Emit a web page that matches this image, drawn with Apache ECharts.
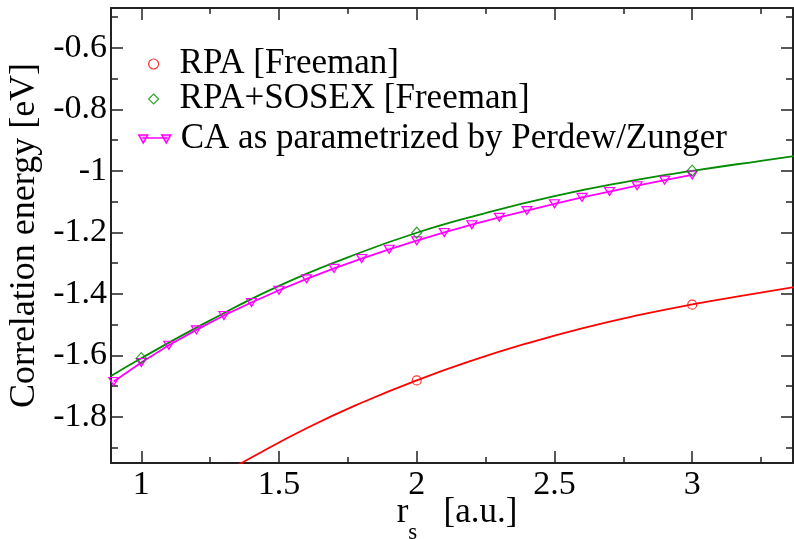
<!DOCTYPE html>
<html><head><meta charset="utf-8">
<script src="https://cdn.jsdelivr.net/npm/echarts@6/dist/echarts.min.js"></script>
<style>html,body{margin:0;padding:0;background:#fff}#c{width:794px;height:539px}</style>
</head><body><div id="c"></div>
<script>
// Tick labels
const xMajor = [1, 1.5, 2, 2.5, 3];
const xMinor = [1.25, 1.75, 2.25, 2.75, 3.25];
const yMajor = [-1.8, -1.6, -1.4, -1.2, -1, -0.8, -0.6];
const yMinor = [-1.9, -1.7, -1.5, -1.3, -1.1, -0.9, -0.7, -0.5];

// RPA [Freeman] data points and fit curve
const rpaX = [2, 3];
const rpaY = [-1.6815, -1.435];
const rpaFitX = [1.3, 1.4, 1.6, 1.8, 2.0, 2.2, 2.4, 2.6, 2.8, 3.0, 3.2, 3.37];
const rpaFitY = [-1.984, -1.932, -1.837, -1.754, -1.681, -1.617, -1.561, -1.512, -1.470, -1.434, -1.403, -1.378];

// RPA+SOSEX [Freeman] data points and fit curve
const sosexX = [1, 2, 3];
const sosexY = [-1.609, -1.201, -0.999];
const sosexFitX = [0.89, 1.0, 1.25, 1.5, 1.75, 2.0, 2.25, 2.5, 2.75, 3.0, 3.25, 3.37];
const sosexFitY = [-1.667, -1.609, -1.486, -1.374, -1.281, -1.201, -1.137, -1.082, -1.037, -1.000, -0.967, -0.952];

// CA (Perdew/Zunger)
const caX = [0.9, 1.0, 1.1, 1.2, 1.3, 1.4, 1.5, 1.6, 1.7, 1.8, 1.9, 2.0, 2.1, 2.2, 2.3, 2.4, 2.5, 2.6, 2.7, 2.8, 2.9, 3.0];
const caY = [-1.685, -1.623, -1.567, -1.517, -1.470, -1.428, -1.388, -1.351, -1.317, -1.285, -1.255, -1.227, -1.200, -1.175, -1.151, -1.129, -1.107, -1.086, -1.067, -1.048, -1.030, -1.013];

const names = ['RPA [Freeman]', 'RPA+SOSEX [Freeman]', 'CA as parametrized by Perdew/Zunger'];

const FONT = 'Liberation Serif';
const XMIN = 0.89, XMAX = 3.366, YMIN = -1.95, YMAX = -0.47;
const axisCol = '#222';
const zip = (a, b) => a.map((v, i) => [v, b[i]]);

function xAx(pos, vals, len, label, line) {
  return {
    type: 'value', min: XMIN, max: XMAX, position: pos,
    axisLine: {show: line, onZero: false, lineStyle: {color: axisCol, width: 2}},
    axisTick: {show: true, inside: true, length: len, customValues: vals, lineStyle: {color: axisCol, width: 1.5}},
    axisLabel: label ? {show: true, customValues: vals, margin: 5, color: '#000', fontFamily: FONT, fontSize: 34} : {show: false},
    splitLine: {show: false}
  };
}
function yAx(pos, vals, len, label, line) {
  return {
    type: 'value', min: YMIN, max: YMAX, position: pos,
    axisLine: {show: line, onZero: false, lineStyle: {color: axisCol, width: 2}},
    axisTick: {show: true, inside: true, length: len, customValues: vals, lineStyle: {color: axisCol, width: 1.5}},
    axisLabel: label ? {show: true, customValues: vals, margin: 4, color: '#000', fontFamily: FONT, fontSize: 34} : {show: false},
    splitLine: {show: false}
  };
}

const x0 = xAx('bottom', xMajor, 12, true, true);
x0.name = '{a|r}{b|s}{a|   [a.u.]}';
x0.nameLocation = 'middle';
x0.nameGap = 32;
x0.nameMoveOverlap = false;
x0.nameTextStyle = {padding: [0, 0, 0, 10], rich: {
  a: {fontFamily: FONT, fontSize: 35, color: '#000', verticalAlign: 'bottom', padding: [0, 0, 14, 0]},
  b: {fontFamily: FONT, fontSize: 23, color: '#000', verticalAlign: 'bottom'}
}};
const y0 = yAx('left', yMajor, 12, true, true);
y0.name = 'Correlation energy [eV]';
y0.nameLocation = 'middle';
y0.nameGap = 68;
y0.nameMoveOverlap = false;
y0.nameTextStyle = {fontFamily: FONT, fontSize: 36, color: '#000'};

const legendText = {fontFamily: FONT, fontSize: 35, color: '#000', lineHeight: 35};

const option = {
  animation: false,
  backgroundColor: '#fff',
  grid: {left: 111, top: 8, right: 1, bottom: 76, containLabel: false, outerBoundsMode: 'none'},
  xAxis: [x0, xAx('top', xMajor, 12, false, true), xAx('bottom', xMinor, 6, false, false), xAx('top', xMinor, 6, false, false)],
  yAxis: [y0, yAx('right', yMajor, 12, false, true), yAx('left', yMinor, 7, false, false), yAx('right', yMinor, 7, false, false)],
  legend: [{
    orient: 'vertical', left: 148, top: 46.5, padding: 0, itemGap: 0, itemWidth: 10, itemHeight: 10,
    textStyle: Object.assign({}, legendText, {padding: [0, 0, 0, 16]}),
    data: [
      {name: names[0], icon: 'circle', itemStyle: {color: 'rgba(0,0,0,0)', borderColor: '#ff0000', borderWidth: 1.2}},
      {name: names[1], icon: 'diamond', itemStyle: {color: 'rgba(0,0,0,0)', borderColor: '#008b00', borderWidth: 1.2}}
    ]
  }, {
    orient: 'vertical', left: 138, top: 116.5, padding: 0, itemGap: 0, itemWidth: 32, itemHeight: 9,
    textStyle: Object.assign({}, legendText, {padding: [0, 0, 10, 5]}),
    data: [
      {name: names[2], icon: 'path://M0,0 L9,0 L4.5,8 Z M23,0 L32,0 L27.5,8 Z M4.5,3 L27.5,3 L27.5,3.01 L4.5,3.01 Z',
       itemStyle: {color: 'rgba(255,0,255,0.3)', borderColor: '#ff00ff', borderWidth: 1.5}}
    ]
  }],
  series: [
    {name: 'rpaFit', type: 'line', data: zip(rpaFitX, rpaFitY), smooth: true, showSymbol: false, symbol: 'none',
     lineStyle: {color: '#ff0000', width: 1.8}, clip: true, z: 2},
    {name: 'sosexFit', type: 'line', data: zip(sosexFitX, sosexFitY), smooth: true, showSymbol: false, symbol: 'none',
     lineStyle: {color: '#008b00', width: 1.8}, clip: true, z: 2},
    {name: names[2], type: 'line', data: zip(caX, caY), symbol: 'triangle', symbolRotate: 180, symbolSize: [10, 8],
     color: '#ff00ff', lineStyle: {color: '#ff00ff', width: 1.8},
     itemStyle: {color: 'rgba(255,0,255,0.15)', borderColor: '#ff00ff', borderWidth: 1.2}, z: 3},
    {name: names[0], type: 'scatter', data: zip(rpaX, rpaY), symbol: 'circle', symbolSize: 9,
     itemStyle: {color: 'rgba(0,0,0,0)', borderColor: '#ff0000', borderWidth: 1.2}, z: 4},
    {name: names[1], type: 'scatter', data: zip(sosexX, sosexY), symbol: 'diamond', symbolSize: [10, 11],
     itemStyle: {color: 'rgba(0,0,0,0)', borderColor: '#008b00', borderWidth: 1.2}, z: 4}
  ]
};
const chart = echarts.init(document.getElementById('c'), null, {renderer: 'canvas'});
chart.setOption(option);
</script></body></html>
